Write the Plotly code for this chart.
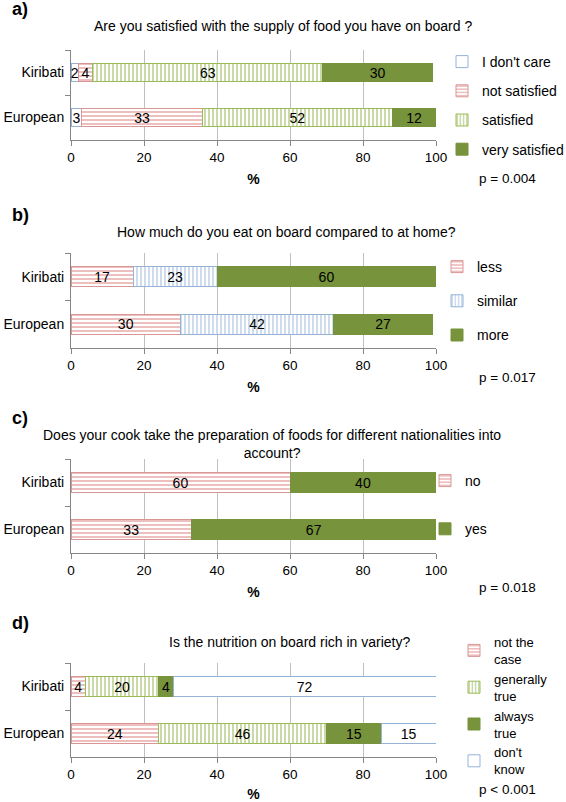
import plotly.graph_objects as go

W, H = 566, 802

groups = ["Kiribati", "European"]

a_labels = ["I don't care", "not satisfied", "satisfied", "very satisfied"]
a_kiribati = [2, 4, 63, 30]
a_european = [3, 33, 52, 12]
a_styles = ["blank", "hlines", "vlines_green", "solid"]

b_labels = ["less", "similar", "more"]
b_kiribati = [17, 23, 60]
b_european = [30, 42, 27]
b_styles = ["hlines", "vlines_blue", "solid"]

c_labels = ["no", "yes"]
c_kiribati = [60, 40]
c_european = [33, 67]
c_styles = ["hlines", "solid"]

d_labels = ["not the<br>case", "generally<br>true", "always<br>true", "don't<br>know"]
d_kiribati = [4, 20, 4, 72]
d_european = [24, 46, 15, 15]
d_styles = ["hlines", "vlines_green", "solid", "blank"]

x_ticks = [0, 20, 40, 60, 80, 100]

titles = [
    "Are you satisfied with the supply of food you have on board ?",
    "How much do you eat on board compared to at home?",
    "Does your cook take the preparation of foods for different nationalities into<br>account?",
    "Is the nutrition on board rich in variety?",
]
panel_tags = ["a)", "b)", "c)", "d)"]
p_values = ["p = 0.004", "p = 0.017", "p = 0.018", "p < 0.001"]

FONT = "Liberation Sans, Arial, sans-serif"
GREEN = "#77933C"
PINK_LINE = "#E6A5A4"
PINK_BORDER = "#D99694"
GREEN_LINE = "#B3C982"
GREEN_BORDER = "#9BBB59"
BLUE_LINE = "#B9CDE5"
BLUE_BORDER = "#95B3D7"


def px_x(p):
    return p / W


def px_y(p):
    return 1 - p / H


def marker_for(style):
    if style == "solid":
        return dict(color=GREEN, line=dict(color=GREEN, width=1))
    if style == "blank":
        return dict(color="white", line=dict(color=BLUE_BORDER, width=1))
    if style == "hlines":
        return dict(color=PINK_LINE, line=dict(color=PINK_BORDER, width=1),
                    pattern=dict(shape="-", fgcolor=PINK_LINE, bgcolor="white",
                                 size=4, solidity=0.35, fillmode="replace"))
    if style == "vlines_green":
        return dict(color=GREEN_LINE, line=dict(color=GREEN_BORDER, width=1),
                    pattern=dict(shape="|", fgcolor=GREEN_LINE, bgcolor="white",
                                 size=4, solidity=0.35, fillmode="replace"))
    if style == "vlines_blue":
        return dict(color=BLUE_LINE, line=dict(color=BLUE_BORDER, width=1),
                    pattern=dict(shape="|", fgcolor=BLUE_LINE, bgcolor="white",
                                 size=4, solidity=0.35, fillmode="replace"))


panels = [
    (a_labels, a_kiribati, a_european, a_styles),
    (b_labels, b_kiribati, b_european, b_styles),
    (c_labels, c_kiribati, c_european, c_styles),
    (d_labels, d_kiribati, d_european, d_styles),
]

# page-pixel layout
plot_px = [(50, 140), (253, 348), (459, 553), (663, 757)]
x_px = (71, 436)
legend_text_px = [482, 477, 465, 494]
legend_top_px = [46, 251, 465, 627]
legend_gap = [8, 13, 27, 0]
legend_font = [14, 14, 14, 13]
tag_y_px = [9, 215, 418, 623]
title_y_px = [26, 232, 444, 642]
title_x_px = [283, 286, 272, 289]
p_y_px = [178, 377, 587, 789]

fig = go.Figure()
annotations = []
layout_axes = {}

for i, (labels, kir, eur, styles) in enumerate(panels):
    n = "" if i == 0 else str(i + 1)
    leg = "legend" if i == 0 else f"legend{i + 1}"
    for j, lab in enumerate(labels):
        vals = [kir[j], eur[j]]
        fig.add_trace(go.Bar(
            y=groups, x=vals, orientation="h", name=lab,
            marker=marker_for(styles[j]), width=0.42,
            text=[str(v) for v in vals], textposition="inside", textangle=0,
            insidetextanchor="middle", constraintext="none",
            textfont=dict(family=FONT, size=14, color="black"),
            xaxis="x" + n, yaxis="y" + n, legend=leg,
            legendgroup=f"g{i}_{j}", hoverinfo="skip",
        ))
    top, bot = plot_px[i]
    layout_axes["xaxis" + n] = dict(
        domain=[px_x(x_px[0]), px_x(x_px[1])], anchor="y" + n, automargin=False,
        range=[0, 100], tickvals=x_ticks, showgrid=True, gridcolor="#BFBFBF",
        gridwidth=1, zeroline=False, showline=True, linecolor="#868686",
        ticks="outside", ticklen=5, tickcolor="#868686",
        tickfont=dict(family=FONT, size=13.5, color="black"),
        title=dict(text="<b>%</b>", font=dict(family=FONT, size=14, color="black"), standoff=9),
        fixedrange=True,
    )
    layout_axes["yaxis" + n] = dict(
        domain=[px_y(bot), px_y(top)], anchor="x" + n, automargin=False,
        categoryorder="array", categoryarray=groups, autorange="reversed",
        showline=True, linecolor="#868686", ticks="outside", ticklen=5,
        tickcolor="#868686", tickson="boundaries", ticklabelstandoff=3,
        tickfont=dict(family=FONT, size=14, color="black"),
        showgrid=False, zeroline=False, fixedrange=True,
    )
    layout_axes[leg] = dict(
        x=px_x(legend_text_px[i] - 40), y=px_y(legend_top_px[i]),
        xanchor="left", yanchor="top",
        traceorder="grouped", tracegroupgap=legend_gap[i],
        font=dict(family=FONT, size=legend_font[i], color="black"),
        bgcolor="rgba(0,0,0,0)", itemwidth=30,
    )
    annotations.append(dict(
        text=f"<b>{panel_tags[i]}</b>", x=px_x(10), y=px_y(tag_y_px[i]),
        xref="paper", yref="paper", xanchor="left", yanchor="middle",
        showarrow=False, font=dict(family=FONT, size=18, color="black"),
    ))
    annotations.append(dict(
        text=titles[i], x=px_x(title_x_px[i]), y=px_y(title_y_px[i]),
        xref="paper", yref="paper", xanchor="center", yanchor="middle",
        showarrow=False, font=dict(family=FONT, size=14, color="black"),
    ))
    annotations.append(dict(
        text=p_values[i], x=px_x(477), y=px_y(p_y_px[i]),
        xref="paper", yref="paper", xanchor="left", yanchor="middle",
        showarrow=False, font=dict(family=FONT, size=13.5, color="black"),
    ))

fig.update_layout(
    template="none",
    width=W, height=H, margin=dict(l=0, r=0, t=0, b=0, autoexpand=False),
    paper_bgcolor="white", plot_bgcolor="white",
    barmode="stack", showlegend=True, annotations=annotations,
    **layout_axes,
)

fig.write_html(
    "out.html",
    config={"displayModeBar": False},
    post_script="document.body.style.margin='0';document.body.style.overflow='hidden';",
)
